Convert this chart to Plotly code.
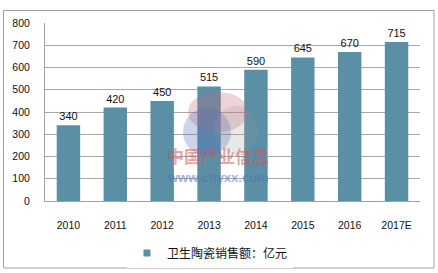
import plotly.graph_objects as go

years = ["2010", "2011", "2012", "2013", "2014", "2015", "2016", "2017E"]
sales = [340, 420, 450, 515, 590, 645, 670, 715]
y_ticks = [0, 100, 200, 300, 400, 500, 600, 700, 800]
series_name = "卫生陶瓷销售额：亿元"

W, H = 438, 273
L, R, T, B = 45, 18, 23, 72
pw, ph = W - L - R, H - T - B

def px_x(px):
    return (px - L) / pw

def px_y(py):
    return (H - B - py) / ph

cjk_font = "Noto Sans CJK SC, sans-serif"
num_font = "Liberation Sans, Arial, sans-serif"
bar_color = "#5A8FA6"

fig = go.Figure()
fig.add_trace(go.Bar(
    x=years, y=sales, name=series_name, showlegend=False,
    marker=dict(color=bar_color, line=dict(width=0)),
    width=0.5,
    text=[str(v) for v in sales], textposition="outside",
    textfont=dict(size=11, color="#111111", family=num_font),
    cliponaxis=False,
))
# legend entry with a small square marker, like the reference
fig.add_trace(go.Scatter(
    x=[None], y=[None], mode="markers", name=series_name,
    marker=dict(symbol="square", size=7, color=bar_color),
))

def ellipse(cx, cy, rx, ry, color):
    return dict(type="circle", xref="paper", yref="paper",
                x0=px_x(cx - rx), x1=px_x(cx + rx),
                y0=px_y(cy + ry), y1=px_y(cy - ry),
                line=dict(width=0), fillcolor=color, layer="above")

fig.update_layout(
    width=W, height=H,
    margin=dict(l=L, r=R, t=T, b=B, autoexpand=False),
    paper_bgcolor="white", plot_bgcolor="white",
    showlegend=True,
    legend=dict(orientation="h", xref="container", yref="container",
                x=(219 - 9) / W, xanchor="center",
                y=(H - 253) / H, yanchor="middle",
                font=dict(size=12, color="#111111", family=cjk_font),
                itemwidth=30, tracegroupgap=0),
    xaxis=dict(showgrid=False, showline=True, linecolor="#A0A0A0", linewidth=1,
               ticks="", tickfont=dict(size=10.5, color="#111111", family=num_font),
               ticklabelstandoff=14),
    yaxis=dict(range=[0, 800], tickvals=y_ticks, showgrid=True, gridcolor="#A8A8A8",
               gridwidth=1, showline=True, linecolor="#A0A0A0", zeroline=False,
               ticks="", tickfont=dict(size=10.5, color="#111111", family=num_font),
               ticklabelstandoff=12),
    shapes=[
        dict(type="rect", xref="paper", yref="paper",
             x0=px_x(3.5), x1=px_x(434),
             y0=px_y(268), y1=px_y(10.5),
             line=dict(color="#A0A0A0", width=1), fillcolor="rgba(0,0,0,0)",
             layer="below"),
        ellipse(218, 112, 30, 20, "rgba(200,110,120,0.30)"),
        ellipse(207, 132, 24, 24, "rgba(90,110,190,0.30)"),
        ellipse(236, 130, 22, 24, "rgba(150,150,150,0.22)"),
    ],
    annotations=[
        dict(text="<b>中国产业信息</b>", xref="paper", yref="paper",
             x=px_x(218), y=px_y(170), showarrow=False,
             font=dict(size=17, color="rgba(205,90,90,0.55)", family=cjk_font)),
        dict(text="<b>www.chyxx.com</b>", xref="paper", yref="paper",
             x=px_x(218), y=px_y(187), showarrow=False,
             font=dict(size=13, color="rgba(90,110,180,0.55)", family=num_font)),
    ],
)

fig.write_html("out.html")
